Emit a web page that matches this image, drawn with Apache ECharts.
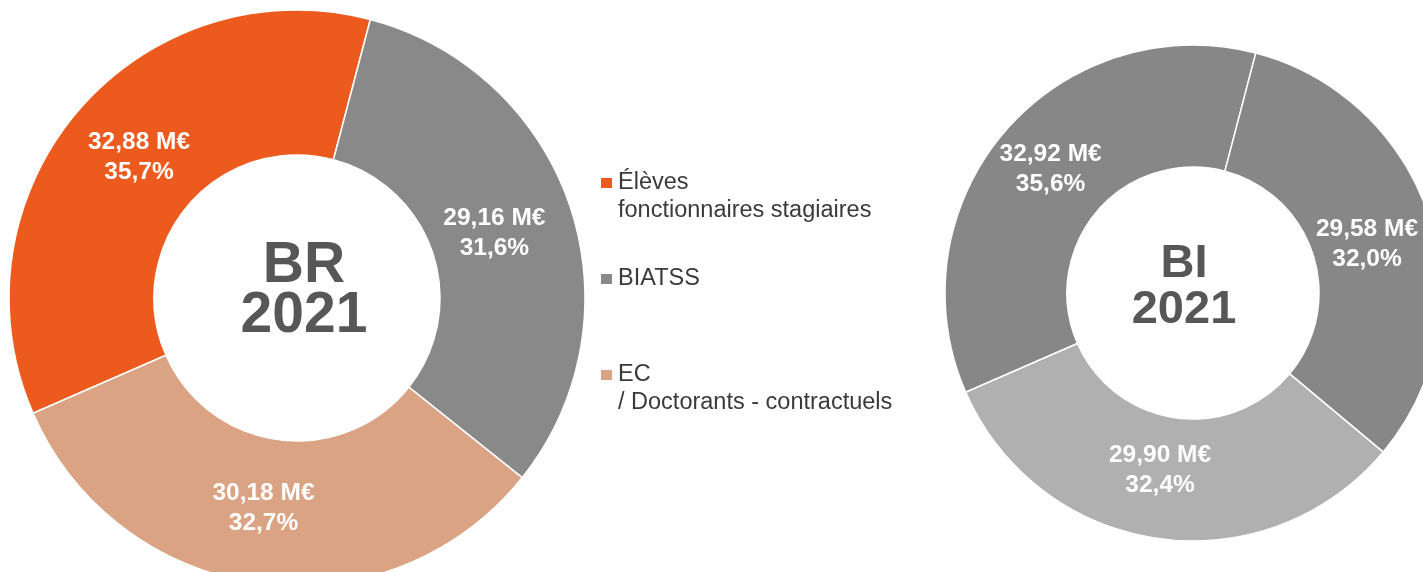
<!DOCTYPE html>
<html>
<head>
<meta charset="utf-8">
<script src="https://cdn.jsdelivr.net/npm/echarts@6/dist/echarts.min.js"></script>
<style>
  html, body { margin: 0; padding: 0; background: #fff; }
  #chart { width: 1423px; height: 572px; }
</style>
</head>
<body>
<div id="chart"></div>
<script>
const categories = ['Élèves\nfonctionnaires stagiaires', 'BIATSS', 'EC\n/ Doctorants - contractuels']
const brValues = [32.88, 29.16, 30.18]
const biValues = [32.92, 29.58, 29.90]
const brColors = ['#ec5a1e', '#898989', '#d9a384']
const biColors = ['#878787', '#878787', '#b0b0b0']
// small nudges so the labels sit where the original put them
const brLabelOffsets = [[8, 1], [-10, 4], [-5, -6]]
const biLabelOffsets = [[2, 0], [-7, 9], [-6, -11]]

const font = 'Liberation Sans, Arial, sans-serif'
const chart = echarts.init(document.getElementById('chart'))

function fmtLabel(p) {
  const v = p.value.toFixed(2).replace('.', ',')
  const pct = p.percent.toFixed(1).replace('.', ',')
  return v + ' M€\n' + pct + '%'
}

function donut(name, values, colors, offsets, center, radius) {
  return {
    name: name,
    type: 'pie',
    center: center,
    radius: radius,
    startAngle: 203.6,
    clockwise: true,
    percentPrecision: 1,
    silent: true,
    label: {
      show: true,
      position: 'inside',
      formatter: fmtLabel,
      color: '#ffffff',
      fontFamily: font,
      fontWeight: 'bold',
      fontSize: 24.5,
      lineHeight: 30,
    },
    labelLine: { show: false },
    itemStyle: { borderColor: '#ffffff', borderWidth: 1.5 },
    data: categories.map((c, i) => ({
      name: c,
      value: values[i],
      itemStyle: { color: colors[i] },
      label: { offset: offsets[i] },
    })),
  }
}

chart.setOption({
  animation: false,
  legend: {
    orient: 'vertical',
    left: 594,
    top: 136,
    itemGap: 40,
    itemWidth: 13,
    itemHeight: 12,
    icon: 'rect',
    selectedMode: false,
    data: categories,
    // blank first line keeps the square level with the first text line
    formatter: (n) => (n.indexOf('\n') >= 0 ? ' \n' + n : n),
    textStyle: {
      fontFamily: font,
      fontSize: 23.5,
      lineHeight: 28,
      color: '#3a3a3a',
    },
  },
  graphic: [
    {
      type: 'text',
      style: {
        x: 304, y: 291,
        text: 'BR\n2021',
        textAlign: 'center',
        textVerticalAlign: 'middle',
        fontFamily: font,
        fontWeight: 'bold',
        fontSize: 57,
        lineHeight: 50,
        fill: '#575757',
      },
    },
    {
      type: 'text',
      style: {
        x: 1184, y: 287,
        text: 'BI\n2021',
        textAlign: 'center',
        textVerticalAlign: 'middle',
        fontFamily: font,
        fontWeight: 'bold',
        fontSize: 47,
        lineHeight: 46,
        fill: '#575757',
      },
    },
  ],
  series: [
    donut('BR 2021', brValues, brColors, brLabelOffsets, [297, 298], [143, 288]),
    donut('BI 2021', biValues, biColors, biLabelOffsets, [1193, 293], [126, 248]),
  ],
})
</script>
</body>
</html>
